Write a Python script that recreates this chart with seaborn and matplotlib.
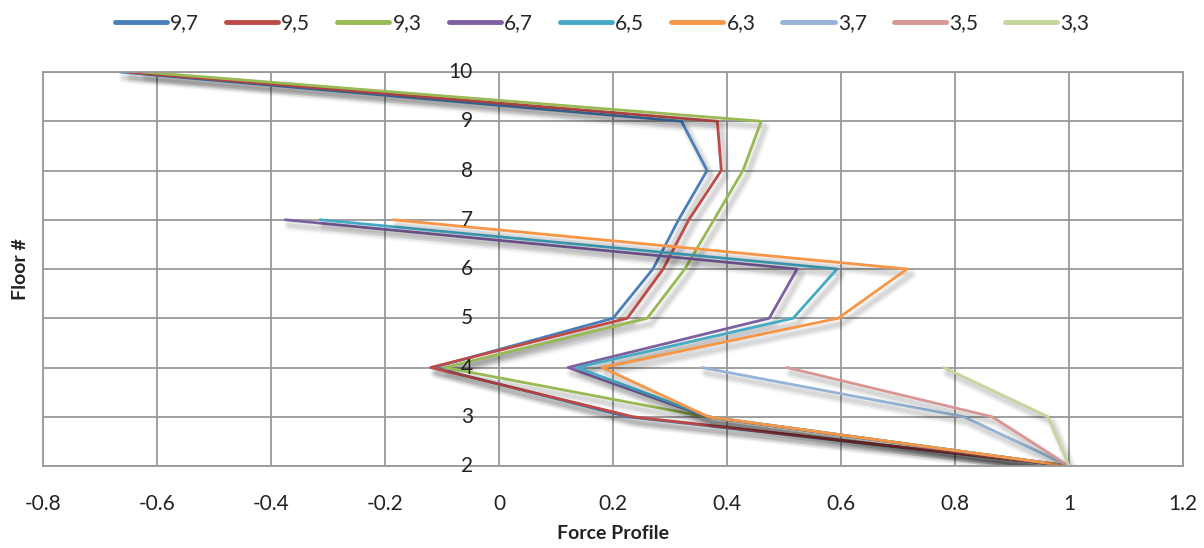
import numpy as np
import pandas as pd
import matplotlib
matplotlib.use("Agg")
import matplotlib.pyplot as plt
import matplotlib.patheffects as pe
from matplotlib.lines import Line2D
import seaborn as sns

# Force profile per floor for each configuration (floors listed bottom-up)
series_names = ["9,7", "9,5", "9,3", "6,7", "6,5", "6,3", "3,7", "3,5", "3,3"]

floors_9 = [2, 3, 4, 5, 6, 7, 8, 9, 10]
force_9_7 = [1.0, 0.225, -0.115, 0.20, 0.27, 0.315, 0.365, 0.32, -0.665]
force_9_5 = [1.0, 0.235, -0.120, 0.225, 0.288, 0.333, 0.39, 0.383, -0.652]
force_9_3 = [1.0, 0.362, -0.095, 0.26, 0.326, 0.377, 0.428, 0.46, -0.625]

floors_6 = [2, 3, 4, 5, 6, 7]
force_6_7 = [1.0, 0.365, 0.121, 0.474, 0.523, -0.375]
force_6_5 = [1.0, 0.368, 0.137, 0.516, 0.593, -0.314]
force_6_3 = [1.0, 0.367, 0.181, 0.595, 0.716, -0.186]

floors_3 = [2, 3, 4]
force_3_7 = [1.0, 0.815, 0.356]
force_3_5 = [1.0, 0.865, 0.505]
force_3_3 = [1.0, 0.963, 0.78]

colors = ["#4A7EBB", "#BE4B48", "#98B954", "#7D60A0", "#46AAC5",
          "#F79646", "#95B3D7", "#D99694", "#C3D69B"]

x_ticks = [-0.8, -0.6, -0.4, -0.2, 0, 0.2, 0.4, 0.6, 0.8, 1, 1.2]
x_tick_labels = ["-0.8", "-0.6", "-0.4", "-0.2", "0", "0.2", "0.4", "0.6", "0.8", "1", "1.2"]
y_ticks = [2, 3, 4, 5, 6, 7, 8, 9, 10]

series_values = [force_9_7, force_9_5, force_9_3, force_6_7, force_6_5,
                 force_6_3, force_3_7, force_3_5, force_3_3]
series_floors = [floors_9] * 3 + [floors_6] * 3 + [floors_3] * 3

rows = []
for name, xs, ys in zip(series_names, series_values, series_floors):
    for order, (xv, yv) in enumerate(zip(xs, ys)):
        rows.append({"series": name, "force": xv, "floor": yv, "order": order})
df = pd.DataFrame(rows)

sns.set_theme(style="white")
plt.rcParams["font.family"] = ["Lato", "DejaVu Sans"]

fig = plt.figure(figsize=(12.04, 5.48), dpi=100)
ax = fig.add_axes([43 / 1204, 1 - 466 / 548, (1183 - 43) / 1204, (466 - 72) / 548])

sns.lineplot(data=df, x="force", y="floor", hue="series", hue_order=series_names,
             palette=colors, sort=False, estimator=None, units="series",
             linewidth=2.0, legend=False, ax=ax)

# soft drop shadow beneath each line
shadow = [
    pe.SimpleLineShadow(offset=(3, -4), shadow_color="black", alpha=0.035, linewidth=8),
    pe.SimpleLineShadow(offset=(3, -4), shadow_color="black", alpha=0.05, linewidth=5.5),
    pe.SimpleLineShadow(offset=(3, -4), shadow_color="black", alpha=0.07, linewidth=3),
    pe.Normal(),
]
for ln in ax.lines:
    ln.set_path_effects(shadow)

ax.set_xlim(-0.8, 1.2)
ax.set_ylim(2, 10)
ax.set_xticks(x_ticks)
ax.set_xticklabels(x_tick_labels, fontsize=15)
ax.set_yticks(y_ticks)
ax.tick_params(axis="y", left=False, labelleft=False)
ax.tick_params(axis="x", bottom=False, pad=14, colors="#222222")
ax.grid(True, color="#999999", linewidth=1.3)
ax.set_axisbelow(True)
for s in ax.spines.values():
    s.set_color("#999999")
    s.set_linewidth(1.3)

# floor numbers sit along the zero line
for f in y_ticks:
    ax.annotate(str(f), xy=(0, f), xytext=(-26, 0), textcoords="offset pixels",
                ha="right", va="center", fontsize=15, color="#222222",
                annotation_clip=False, zorder=5)

ax.set_xlabel("Force Profile", fontsize=14, fontweight="bold", labelpad=8, color="#222222")
ax.set_ylabel("Floor #", fontsize=14, fontweight="bold", labelpad=10, color="#222222")

handles = [Line2D([0], [0], color=c, linewidth=3.5) for c in colors]
fig.legend(handles, series_names, loc="upper center", bbox_to_anchor=(0.5, 1.01),
           ncol=9, frameon=False, fontsize=15, handlelength=2.5, handletextpad=0.15,
           columnspacing=1.3)

fig.savefig("out.png", dpi=100)
